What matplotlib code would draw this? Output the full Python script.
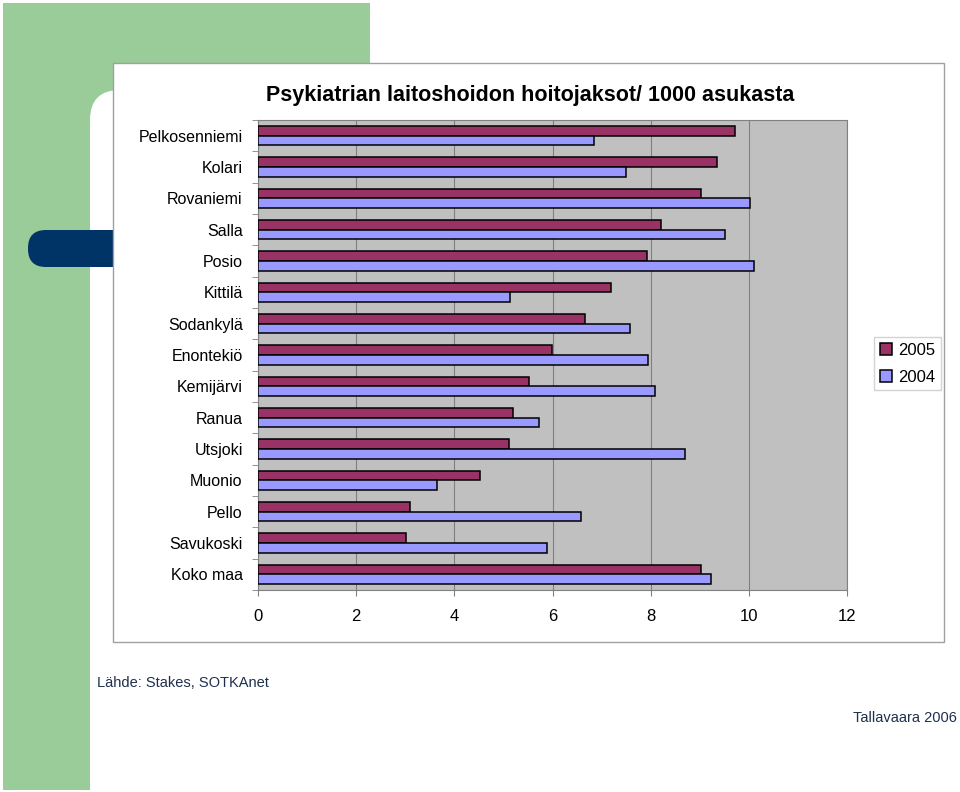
import matplotlib
matplotlib.use("Agg")
import matplotlib.pyplot as plt
import numpy as np
from matplotlib.patches import Rectangle, FancyBboxPatch

plt.rcParams['font.family'] = ['Liberation Sans', 'DejaVu Sans']

categories = ["Pelkosenniemi", "Kolari", "Rovaniemi", "Salla", "Posio", "Kittilä",
              "Sodankylä", "Enontekiö", "Kemijärvi", "Ranua", "Utsjoki", "Muonio",
              "Pello", "Savukoski", "Koko maa"]
v2005 = [9.72, 9.35, 9.02, 8.21, 7.93, 7.20, 6.66, 5.99, 5.52, 5.20, 5.11, 4.52, 3.10, 3.02, 9.02]
v2004 = [6.85, 7.50, 10.02, 9.51, 10.11, 5.13, 7.58, 7.95, 8.09, 5.73, 8.70, 3.65, 6.58, 5.89, 9.22]
series_labels = ["2005", "2004"]
xticks = [0, 2, 4, 6, 8, 10, 12]
title = "Psykiatrian laitoshoidon hoitojaksot/ 1000 asukasta"

W, H = 960, 792
fig = plt.figure(figsize=(W / 100, H / 100), dpi=100)

# background decoration axes in pixel coordinates
bg = fig.add_axes([0, 0, 1, 1], zorder=0)
bg.set_xlim(0, W)
bg.set_ylim(H, 0)
bg.axis('off')
bg.add_patch(Rectangle((3, 3), 367, 787, facecolor='#99CC99', edgecolor='none'))
bg.add_patch(FancyBboxPatch((120, 120), 1000, 1000, boxstyle="round,pad=30,rounding_size=30",
                            facecolor='white', edgecolor='none'))
bg.add_patch(FancyBboxPatch((28, 230), 110, 37, boxstyle="round,pad=0,rounding_size=18",
                            facecolor='#003366', edgecolor='none'))
bg.add_patch(Rectangle((113, 63), 831, 579, facecolor='white', edgecolor='#A0A0A0', lw=1))
bg.text(97, 683, "Lähde: Stakes, SOTKAnet", fontsize=10.5, color='#1F2F4F', va='center', ha='left')
bg.text(957, 718, "Tallavaara 2006", fontsize=10.5, color='#1F2F4F', va='center', ha='right')
bg.text(530, 95, title, fontsize=15.5, fontweight='bold', ha='center', va='center', color='black')

# main chart
left, right, top, bottom = 258, 847, 120, 590
ax = fig.add_axes([left / W, 1 - bottom / H, (right - left) / W, (bottom - top) / H], zorder=2)
ax.set_facecolor('#C0C0C0')
n = len(categories)
y = np.arange(n)
bh = 0.31
ax.barh(y - bh / 2, v2005, height=bh, color='#993366', edgecolor='black', lw=1.1,
        label=series_labels[0], zorder=3)
ax.barh(y + bh / 2, v2004, height=bh, color='#9999FF', edgecolor='black', lw=1.1,
        label=series_labels[1], zorder=3)
ax.set_ylim(n - 0.5, -0.5)
ax.set_xlim(0, 12)
ax.set_xticks(xticks)
ax.set_xticklabels([str(t) for t in xticks], fontsize=12)
ax.set_yticks(y)
ax.set_yticklabels(categories, fontsize=11.5)
ax.set_yticks(np.arange(-0.5, n, 1), minor=True)
ax.tick_params(axis='y', which='major', length=0, pad=11)
ax.tick_params(axis='y', which='minor', length=4, color='#808080')
ax.tick_params(axis='x', which='major', length=4, color='#808080', pad=10)
ax.grid(axis='x', color='#808080', lw=0.8, zorder=1)
ax.set_axisbelow(True)
for s in ['top', 'right']:
    ax.spines[s].set_color('#808080')
    ax.spines[s].set_linewidth(0.8)
ax.spines['left'].set_color('#808080')
ax.spines['bottom'].set_color('#808080')

leg = fig.legend(loc='upper left', bbox_to_anchor=(874 / W, 1 - 337 / H), fontsize=12,
                 frameon=True, fancybox=False, edgecolor='#C8C8C8', handlelength=0.7,
                 handleheight=0.7, handletextpad=0.4, borderpad=0.35, labelspacing=0.7,
                 borderaxespad=0)
leg.set_zorder(5)

fig.savefig("out.png", dpi=100)
